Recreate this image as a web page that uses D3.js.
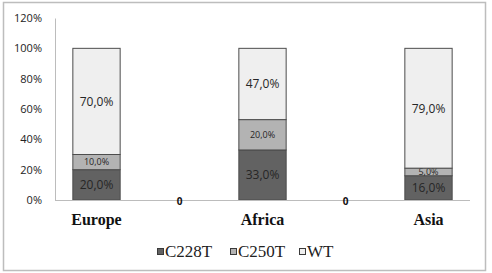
<!DOCTYPE html>
<html>
<head>
<meta charset="utf-8">
<script src="https://cdn.jsdelivr.net/npm/d3@7"></script>
<style>
  body { margin: 0; background: #fff; }
  svg { display: block; }
  .serif { font-family: "Times New Roman", "Liberation Serif", serif; }
</style>
</head>
<body>
<div id="chart"></div>
<script>
// data
var categories = ["Europe", "", "Africa", "", "Asia"];
var seriesNames = ["C228T", "C250T", "WT"];
var c228t = [20, 0, 33, 0, 16];
var c250t = [10, 0, 20, 0, 5];
var wt = [70, 0, 47, 0, 79];
var yTicks = [0, 20, 40, 60, 80, 100, 120];

var colors = {"C228T": "#626262", "C250T": "#b3b3b3", "WT": "#efefef"};

var width = 492, height = 273;
var margin = {top: 18, right: 22, bottom: 73, left: 55};

var svg = d3.select("#chart")
  .append("svg")
    .attr("width", width)
    .attr("height", height);

// outer frame
svg.append("rect")
  .attr("x", 3.5).attr("y", 2.5)
  .attr("width", 482).attr("height", 268)
  .attr("fill", "none")
  .attr("stroke", "#bdbdbd")
  .attr("stroke-width", 1.5);

var g = svg.append("g")
  .attr("transform", "translate(" + margin.left + "," + margin.top + ")");

var plotW = width - margin.left - margin.right,
    plotH = height - margin.top - margin.bottom;

var x = d3.scaleBand()
  .domain(d3.range(categories.length))
  .range([0, plotW])
  .paddingInner(0.43)
  .paddingOuter(0.215);

var y = d3.scaleLinear()
  .domain([0, 120])
  .range([plotH, 0]);

// table for stacking
var table = categories.map(function(c, i) {
  return {i: i, cat: c, "C228T": c228t[i], "C250T": c250t[i], "WT": wt[i]};
});
var stacked = d3.stack().keys(seriesNames)(table);

// y axis
var yAxis = d3.axisLeft(y)
  .tickValues(yTicks)
  .tickSize(0)
  .tickPadding(13)
  .tickFormat(function(d) { return d + "%"; });

g.append("g")
  .attr("class", "y axis")
  .call(yAxis)
  .call(function(s) {
    s.select(".domain").attr("stroke", "#bcbcbc");
    s.selectAll("text")
      .attr("font-family", "'Open Sans', sans-serif")
      .attr("font-size", "11px")
      .attr("fill", "#222");
  });

// bars
var layers = g.selectAll(".layer")
  .data(stacked)
  .enter()
  .append("g")
    .attr("class", "layer")
    .attr("fill", function(d) { return colors[d.key]; });

layers.selectAll("rect")
  .data(function(d) { return d.filter(function(p) { return p[1] - p[0] > 0; }); })
  .enter()
  .append("rect")
    .attr("x", function(d) { return x(d.data.i); })
    .attr("y", function(d) { return y(d[1]); })
    .attr("width", x.bandwidth())
    .attr("height", function(d) { return y(d[0]) - y(d[1]); })
    .attr("stroke", "#4d4d4d")
    .attr("stroke-width", 1);

// data labels
layers.each(function(layer) {
  var small = layer.key === "C250T";
  d3.select(this).selectAll("text")
    .data(layer.filter(function(p) { return p[1] - p[0] > 0; }))
    .enter()
    .append("text")
      .attr("x", function(d) { return x(d.data.i) + x.bandwidth() / 2; })
      .attr("y", function(d) { return y((d[0] + d[1]) / 2); })
      .attr("dy", "0.36em")
      .attr("text-anchor", "middle")
      .attr("font-family", "'Open Sans', sans-serif")
      .attr("font-size", small ? "9px" : "12px")
      .attr("fill", "#262626")
      .text(function(d) { return (d[1] - d[0]).toFixed(1).replace(".", ",") + "%"; });
});

// x axis line
g.append("line")
  .attr("x1", 0).attr("x2", plotW)
  .attr("y1", plotH + 0.5).attr("y2", plotH + 0.5)
  .attr("stroke", "#bcbcbc");

// zero labels for empty categories
g.selectAll(".zero")
  .data(table.filter(function(d) { return d.C228T + d.C250T + d.WT === 0; }))
  .enter()
  .append("text")
    .attr("class", "zero")
    .attr("x", function(d) { return x(d.i) + x.bandwidth() / 2; })
    .attr("y", plotH + 1)
    .attr("dy", "0.36em")
    .attr("text-anchor", "middle")
    .attr("font-family", "'Open Sans', sans-serif")
    .attr("font-weight", "bold")
    .attr("font-size", "10px")
    .attr("fill", "#111")
    .text("0");

// category labels
g.selectAll(".cat")
  .data(table)
  .enter()
  .append("text")
    .attr("class", "cat serif")
    .attr("x", function(d) { return x(d.i) + x.bandwidth() / 2; })
    .attr("y", plotH + 25)
    .attr("text-anchor", "middle")
    .attr("font-weight", "bold")
    .attr("font-size", "16px")
    .attr("fill", "#111")
    .text(function(d) { return d.cat; });

// legend
var legendX = [157, 230, 299];
var legend = svg.selectAll(".legend")
  .data(seriesNames)
  .enter()
  .append("g")
    .attr("class", "legend")
    .attr("transform", function(d, i) { return "translate(" + legendX[i] + ",248)"; });

legend.append("rect")
  .attr("x", 0.5).attr("y", 0.5)
  .attr("width", 6).attr("height", 6)
  .attr("fill", function(d) { return colors[d]; })
  .attr("stroke", "#3a3a3a");

legend.append("text")
  .attr("class", "serif")
  .attr("x", 8)
  .attr("y", 9)
  .attr("font-size", "17px")
  .attr("fill", "#222")
  .text(function(d) { return d; });
</script>
</body>
</html>
